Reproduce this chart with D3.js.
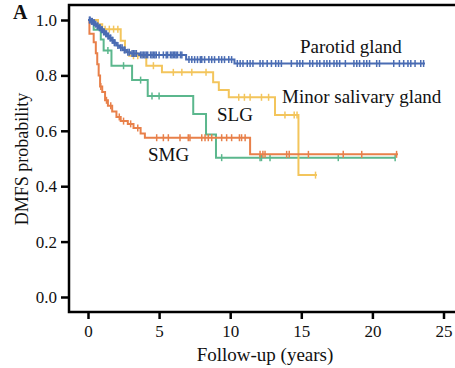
<!DOCTYPE html>
<html>
<head>
<meta charset="utf-8">
<script src="https://cdn.jsdelivr.net/npm/d3@7"></script>
<style>
  body { margin: 0; background: #fff; }
  text { font-family: "Liberation Serif", "Times New Roman", serif; fill: #111; }
</style>
</head>
<body>
<svg id="chart" width="455" height="368"></svg>
<script>
// step times (years) and survival after each step
const parotidTime = [0, 0.2, 0.35, 0.5, 0.6, 0.75, 0.9, 1.05, 1.2, 1.35, 1.5, 1.65, 1.8, 2.0, 2.2, 2.45, 2.7, 3.0, 3.6, 6.9, 10.3];
const parotidSurv = [1, 0.995, 0.99, 0.985, 0.978, 0.972, 0.965, 0.957, 0.95, 0.942, 0.935, 0.927, 0.918, 0.908, 0.9, 0.892, 0.884, 0.879, 0.874, 0.857, 0.843];
const parotidEnd = 23.7;
const parotidCensor = [0.1, 0.15, 0.25, 0.3, 0.4, 0.45, 0.55, 0.65, 0.7, 0.8, 0.85, 0.95, 1.0, 1.1, 1.15, 1.25, 1.3, 1.4, 1.45, 1.55, 1.6, 1.7, 1.75, 1.85, 1.9, 2.1, 2.3, 2.4, 2.55, 2.6, 2.8, 2.9, 3.1, 3.2, 3.3, 3.4, 3.7, 3.8, 3.9, 4.0, 4.1, 4.2, 4.4, 4.5, 4.6, 4.7, 4.8, 5.0, 5.3, 5.5, 5.6, 5.8, 5.9, 6.0, 6.1, 6.2, 6.3, 6.5, 6.6, 7.1, 7.3, 7.5, 7.7, 7.9, 8.0, 8.2, 8.5, 8.7, 8.9, 9.2, 9.4, 9.6, 9.9, 10.1, 10.5, 10.7, 10.9, 11.2, 11.4, 11.6, 12.1, 12.3, 12.6, 12.9, 13.2, 13.4, 13.6, 14.3, 14.7, 14.9, 15.1, 15.6, 15.8, 16.1, 16.3, 16.6, 16.8, 17.0, 17.3, 17.5, 17.7, 18.1, 18.7, 18.9, 19.1, 19.4, 19.6, 19.8, 20.3, 20.5, 21.5, 21.9, 22.2, 22.5, 22.7, 23.0, 23.4, 23.6];

const minorTime = [0, 0.7, 1.0, 2.3, 2.6, 2.9, 4.1, 5.2, 8.8, 9.2, 9.9, 13.15, 14.8];
const minorSurv = [1, 0.985, 0.967, 0.925, 0.885, 0.871, 0.835, 0.811, 0.775, 0.747, 0.721, 0.657, 0.44];
const minorEnd = 16.1;
const minorCensor = [1.2, 1.5, 1.8, 2.1, 3.2, 3.5, 4.6, 6.0, 6.6, 7.3, 8.3, 10.6, 11.0, 11.4, 12.2, 12.7, 13.85, 14.5, 14.7, 16.0];

const slgTime = [0, 0.4, 0.9, 1.1, 1.65, 3.1, 4.2, 7.4, 8.3, 9.0];
const slgSurv = [1, 0.965, 0.93, 0.89, 0.835, 0.783, 0.726, 0.661, 0.587, 0.503];
const slgEnd = 21.6;
const slgCensor = [1.4, 2.5, 3.7, 4.5, 5.0, 9.4, 12.1, 12.2, 12.8, 17.6, 21.6];

const smgTime = [0, 0.1, 0.4, 0.55, 0.65, 0.75, 0.85, 1.0, 1.2, 1.4, 1.7, 2.0, 2.3, 2.8, 3.2, 3.7, 4.0, 11.4];
const smgSurv = [1, 0.95, 0.92, 0.88, 0.84, 0.80, 0.76, 0.74, 0.71, 0.69, 0.67, 0.65, 0.635, 0.625, 0.61, 0.59, 0.575, 0.515];
const smgEnd = 21.8;
const smgCensor = [0.9, 1.3, 1.6, 2.2, 2.5, 3.0, 3.5, 4.83, 5.3, 5.65, 6.47, 7.05, 7.17, 8.0, 8.23, 8.46, 8.7, 9.4, 9.75, 10.1, 10.65, 10.8, 11.05, 12.1, 12.3, 12.45, 13.97, 14.15, 15.5, 17.95, 19.25, 21.7];

const xTicks = [0, 5, 10, 15, 20, 25];
const yTicks = [0, 0.2, 0.4, 0.6, 0.8, 1.0];

const groups = [
  {name: "SLG", time: slgTime, surv: slgSurv, end: slgEnd, censor: slgCensor, color: "#5bb78d"},
  {name: "Minor salivary gland", time: minorTime, surv: minorSurv, end: minorEnd, censor: minorCensor, color: "#f3c55c"},
  {name: "SMG", time: smgTime, surv: smgSurv, end: smgEnd, censor: smgCensor, color: "#e8804a"},
  {name: "Parotid gland", time: parotidTime, surv: parotidSurv, end: parotidEnd, censor: parotidCensor, color: "#4a6cb3"}
];

const labels = [
  {text: "Parotid gland", x: 300, y: 53},
  {text: "Minor salivary gland", x: 282, y: 103},
  {text: "SLG", x: 217, y: 121},
  {text: "SMG", x: 148, y: 161}
];

const svg = d3.select("#chart");
const x = d3.scaleLinear().domain([0, 25]).range([88, 443.5]);
const y = d3.scaleLinear().domain([0, 1]).range([297, 20]);

const frame = {left: 69, top: 5, bottom: 312, right: 470};

// frame box
svg.append("rect")
  .attr("x", frame.left).attr("y", frame.top)
  .attr("width", frame.right - frame.left).attr("height", frame.bottom - frame.top)
  .style("fill", "none").style("stroke", "#000").style("stroke-width", 2.5);

// y axis ticks
const yg = svg.append("g").attr("transform", "translate(" + frame.left + ",0)")
  .call(d3.axisLeft(y).tickValues(yTicks).tickSize(8).tickPadding(4).tickFormat(d3.format(".1f")));
yg.select(".domain").remove();
yg.selectAll("line").style("stroke", "#000").style("stroke-width", 2.5);
yg.selectAll("text").style("font-size", "17px").style("font-family", "Liberation Serif, serif").attr("fill", "#111");

// x axis ticks
const xg = svg.append("g").attr("transform", "translate(0," + frame.bottom + ")")
  .call(d3.axisBottom(x).tickValues(xTicks).tickSize(7).tickPadding(6));
xg.select(".domain").remove();
xg.selectAll("line").style("stroke", "#000").style("stroke-width", 2.5);
xg.selectAll("text").style("font-size", "17px").style("font-family", "Liberation Serif, serif").attr("fill", "#111");

// axis titles
svg.append("text").attr("x", 265).attr("y", 361).attr("text-anchor", "middle")
  .style("font-size", "19px").text("Follow-up (years)");
svg.append("text").attr("transform", "translate(28,159) rotate(-90)").attr("text-anchor", "middle")
  .style("font-size", "18px").text("DMFS probability");
svg.append("text").attr("x", 13).attr("y", 19).style("font-size", "20px").style("font-weight", "bold").text("A");

const line = d3.line().x(d => x(d[0])).y(d => y(d[1])).curve(d3.curveStepAfter);

function survAt(g, t) {
  let s = g.surv[0];
  g.time.forEach(function(tt, i) { if (tt <= t) s = g.surv[i]; });
  return s;
}

groups.forEach(function(g) {
  let pts = g.time.map((t, i) => [t, g.surv[i]]);
  pts.push([g.end, g.surv[g.surv.length - 1]]);
  let gg = svg.append("g");
  gg.append("path").attr("d", line(pts))
    .style("fill", "none").style("stroke", g.color).style("stroke-width", 2);
  gg.selectAll("line.censor").data(g.censor).enter().append("line")
    .attr("x1", d => x(d)).attr("x2", d => x(d))
    .attr("y1", d => y(survAt(g, d)) - 3.5).attr("y2", d => y(survAt(g, d)) + 3.5)
    .style("stroke", g.color).style("stroke-width", 1.5);
});

labels.forEach(function(l) {
  svg.append("text").attr("x", l.x).attr("y", l.y).style("font-size", "19px").text(l.text);
});
</script>
</body>
</html>
